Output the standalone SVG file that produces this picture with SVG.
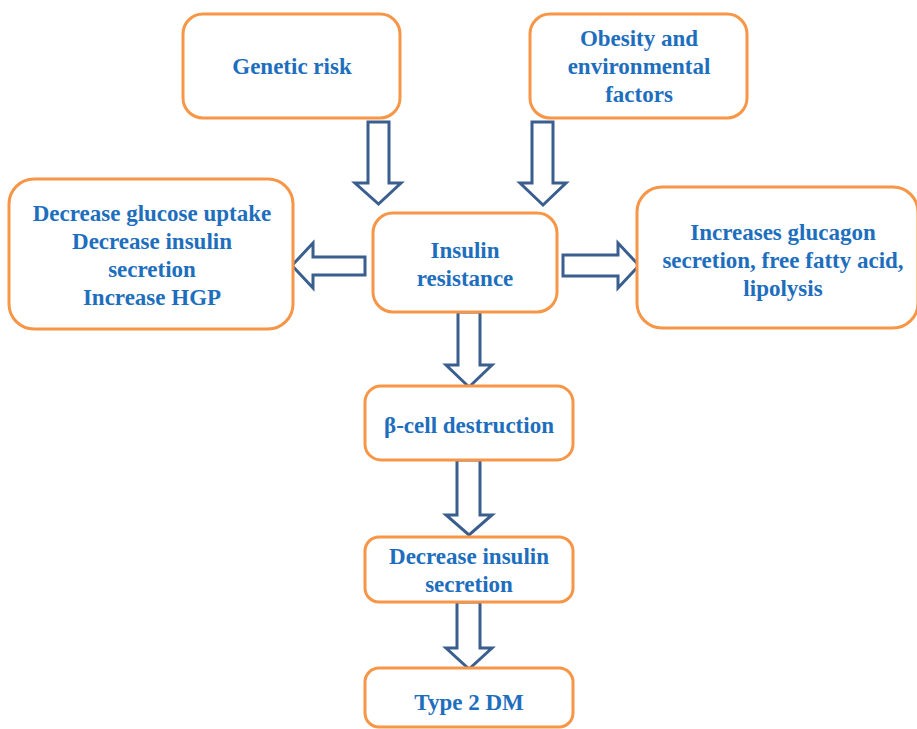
<svg xmlns="http://www.w3.org/2000/svg" width="917" height="729" viewBox="0 0 917 729">
<style>
.box{fill:#fff;stroke:#F79646;stroke-width:3}
.t{font-family:"Liberation Serif","Times New Roman",serif;font-weight:bold;font-size:23px;fill:#1E6EBE;text-anchor:middle}
.arr{fill:#fff;stroke:#3A5F8F;stroke-width:3;stroke-linejoin:miter}
</style>
<rect width="917" height="729" fill="#fff"/>
<g id="connectors">
<path class="arr" d="M368,122 H389 V183 H401 L378.5,204 L355,183 H368 Z"/>
<path class="arr" d="M532,122 H553 V183 H566 L543,205 L520,183 H532 Z"/>
<path class="arr" d="M365,257 V275 H313 V288 L292,265.5 L313,243 V257 Z"/>
<path class="arr" d="M563,255 H618 V243 L639,265.5 L618,288 V276 H563 Z"/>
<path class="arr" d="M458,312 H480 V365 H492 L469,387 L446,365 H458 Z"/>
<path class="arr" d="M457,460 H480 V515 H492 L469,535 L446,515 H457 Z"/>
<path class="arr" d="M457,602 H480 V648 H492 L469,669 L446,648 H457 Z"/>
</g>
<g id="genetic">
<rect class="box" x="183" y="14" width="217" height="104" rx="20"/>
<text class="t" x="292" y="74">Genetic risk</text>
</g>
<g id="obesity">
<rect class="box" x="530" y="14" width="217" height="104" rx="20"/>
<text class="t" x="639" y="46">Obesity and</text>
<text class="t" x="639" y="74">environmental</text>
<text class="t" x="639" y="102">factors</text>
</g>
<g id="left">
<rect class="box" x="9" y="179" width="284" height="150" rx="25"/>
<text class="t" x="152" y="221">Decrease glucose uptake</text>
<text class="t" x="152" y="249">Decrease insulin</text>
<text class="t" x="152" y="277">secretion</text>
<text class="t" x="152" y="305">Increase HGP</text>
</g>
<g id="insulin">
<rect class="box" x="373" y="213" width="184" height="99" rx="20"/>
<text class="t" x="465" y="258">Insulin</text>
<text class="t" x="465" y="286">resistance</text>
</g>
<g id="right">
<rect class="box" x="637" y="187" width="281" height="141" rx="25"/>
<text class="t" x="783" y="240">Increases glucagon</text>
<text class="t" x="783" y="268">secretion, free fatty acid,</text>
<text class="t" x="783" y="296">lipolysis</text>
</g>
<g id="beta">
<rect class="box" x="365" y="386" width="208" height="74" rx="16"/>
<text class="t" x="469" y="433">β-cell destruction</text>
</g>
<g id="decrease">
<rect class="box" x="365" y="537" width="208" height="65" rx="14"/>
<text class="t" x="469" y="564">Decrease insulin</text>
<text class="t" x="469" y="592">secretion</text>
</g>
<g id="type2">
<rect class="box" x="365" y="668" width="208" height="59" rx="14"/>
<text class="t" x="469" y="710">Type 2 DM</text>
</g>
</svg>
